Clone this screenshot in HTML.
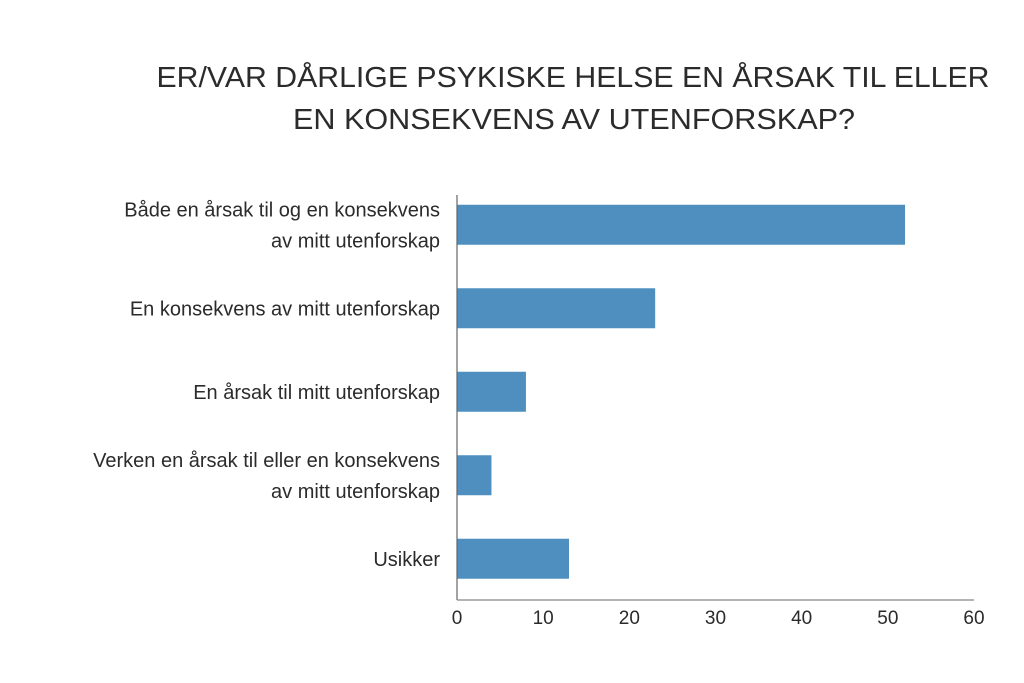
<!DOCTYPE html>
<html><head><meta charset="utf-8"><style>
html,body{margin:0;padding:0;background:#fff;}
svg{display:block;font-family:"Liberation Sans",sans-serif;}
</style></head><body>
<svg id="chart" width="1024" height="683" viewBox="0 0 1024 683">
<g fill="#2b2b2b" font-size="29" text-anchor="middle">
<text x="573" y="87" textLength="833" lengthAdjust="spacingAndGlyphs">ER/VAR DÅRLIGE PSYKISKE HELSE EN ÅRSAK TIL ELLER</text>
<text x="574" y="129" textLength="562" lengthAdjust="spacingAndGlyphs">EN KONSEKVENS AV UTENFORSKAP?</text>
</g>
<g id="bars"></g>
<g id="labels" fill="#2b2b2b" font-size="20" text-anchor="end"></g>
<g id="ticks" fill="#2b2b2b" font-size="19" text-anchor="middle"></g>
<line x1="457" y1="195" x2="457" y2="600" stroke="#666" stroke-width="1.2"/>
<line x1="457" y1="600" x2="974" y2="600" stroke="#888" stroke-width="1.2"/>
</svg>
<script>
const categories = [
  ["Både en årsak til og en konsekvens","av mitt utenforskap"],
  ["En konsekvens av mitt utenforskap"],
  ["En årsak til mitt utenforskap"],
  ["Verken en årsak til eller en konsekvens","av mitt utenforskap"],
  ["Usikker"]
];
const values = [52, 23, 8, 4, 13];
const tickLabels = [0, 10, 20, 30, 40, 50, 60];

const NS = "http://www.w3.org/2000/svg";
const x0 = 457, x1 = 974, xMax = 60;
const xs = v => x0 + (v / xMax) * (x1 - x0);
const bandTop = 182, bandH = 83.5, barH = 40;
const yc = i => bandTop + bandH * i + bandH / 2 + 1;

const gB = document.getElementById('bars');
const gL = document.getElementById('labels');
const gT = document.getElementById('ticks');

values.forEach((v, i) => {
  const r = document.createElementNS(NS, 'rect');
  r.setAttribute('x', x0);
  r.setAttribute('y', yc(i) - barH / 2);
  r.setAttribute('width', xs(v) - x0);
  r.setAttribute('height', barH);
  r.setAttribute('fill', '#4f8fc0');
  
  
  gB.appendChild(r);
});

categories.forEach((lines, i) => {
  const t = document.createElementNS(NS, 'text');
  
  
  const n = lines.length;
  lines.forEach((ln, j) => {
    const s = document.createElementNS(NS, 'tspan');
    s.setAttribute('x', 440);
    s.setAttribute('y', yc(i) + 7 + (j - (n - 1) / 2) * 31);
    s.textContent = ln;
    t.appendChild(s);
  });
  gL.appendChild(t);
});

tickLabels.forEach(v => {
  const t = document.createElementNS(NS, 'text');
  t.setAttribute('x', xs(v));
  t.setAttribute('y', 624);
  
  
  t.textContent = v;
  gT.appendChild(t);
});
</script>
</body></html>
